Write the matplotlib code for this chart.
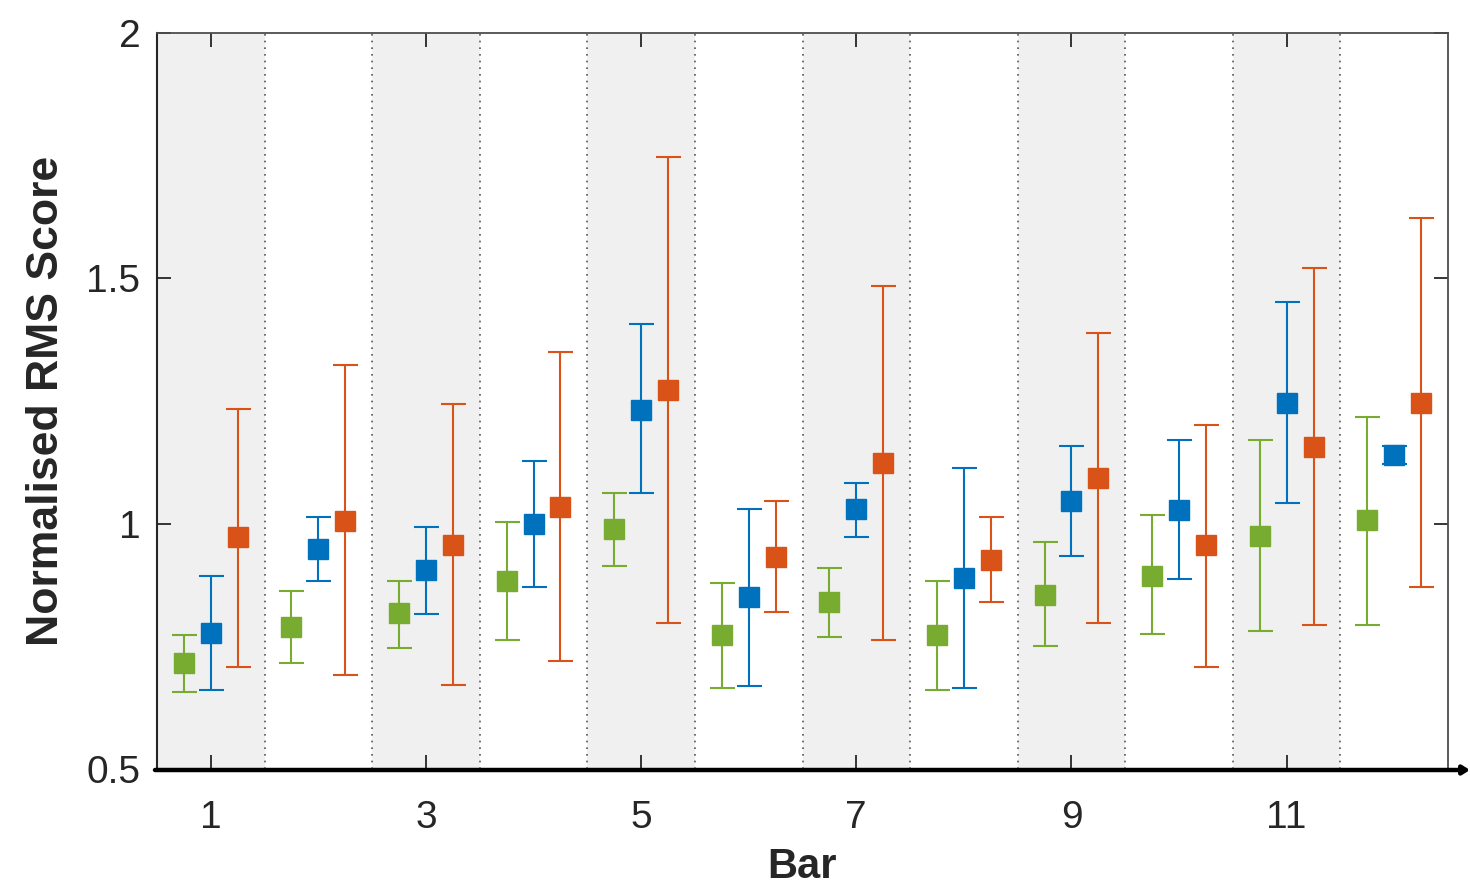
import matplotlib
matplotlib.use("Agg")
import matplotlib.pyplot as plt
import numpy as np

plt.rcParams['font.family'] = ['Liberation Sans', 'DejaVu Sans']

bars = list(range(1, 13))
xtick_vals = [1, 3, 5, 7, 9, 11]
ytick_vals = [0.5, 1, 1.5, 2]
ytick_labels = ['0.5', '1', '1.5', '2']

green_mid = [0.716, 0.789, 0.818, 0.883, 0.989, 0.773, 0.840, 0.773, 0.855, 0.893, 0.975, 1.007]
green_hi = [0.773, 0.863, 0.883, 1.003, 1.062, 0.879, 0.910, 0.883, 0.963, 1.018, 1.171, 1.217]
green_lo = [0.657, 0.716, 0.747, 0.763, 0.914, 0.665, 0.769, 0.661, 0.751, 0.775, 0.781, 0.793]

blue_mid = [0.777, 0.948, 0.906, 1.000, 1.232, 0.851, 1.030, 0.889, 1.046, 1.028, 1.246, 1.140]
blue_hi = [0.893, 1.014, 0.993, 1.128, 1.407, 1.030, 1.083, 1.113, 1.158, 1.171, 1.452, 1.158]
blue_lo = [0.661, 0.883, 0.816, 0.871, 1.062, 0.669, 0.973, 0.665, 0.934, 0.887, 1.042, 1.122]

orange_mid = [0.973, 1.005, 0.957, 1.034, 1.272, 0.932, 1.124, 0.926, 1.093, 0.957, 1.156, 1.246]
orange_hi = [1.234, 1.323, 1.244, 1.350, 1.747, 1.046, 1.484, 1.014, 1.389, 1.201, 1.521, 1.623]
orange_lo = [0.708, 0.692, 0.671, 0.720, 0.798, 0.820, 0.763, 0.840, 0.798, 0.708, 0.793, 0.871]

series = [
    (green_mid, green_lo, green_hi, '#77AC30', -0.25),
    (blue_mid, blue_lo, blue_hi, '#0072BD', 0.0),
    (orange_mid, orange_lo, orange_hi, '#D95319', 0.25),
]

fig = plt.figure(figsize=(14.7, 8.89), dpi=100)
ax = fig.add_axes([157/1470, 1 - 769/889, (1448-157)/1470, (769-33)/889])

# shaded bands and dotted separators
for b in bars:
    if b % 2 == 1:
        ax.axvspan(b - 0.5, b + 0.5, color='#f0f0f0', zorder=0, lw=0)
for b in bars[:-1]:
    ax.axvline(b + 0.5, color='#555555', ls=(0, (1, 3)), lw=1.2, zorder=1)

for mid, lo, hi, col, off in series:
    x = np.array(bars) + off
    mid = np.array(mid)
    yerr = [mid - np.array(lo), np.array(hi) - mid]
    ax.errorbar(x, mid, yerr=yerr, fmt='s', color=col, ecolor=col,
                markersize=14.5, elinewidth=1.5, capsize=9, capthick=1.5,
                zorder=3)

ax.set_xlim(0.5, 12.5)
ax.set_ylim(0.5, 2)
ax.set_xticks(xtick_vals)
ax.set_xticklabels([str(v) for v in xtick_vals])
ax.set_yticks(ytick_vals)
ax.set_yticklabels(ytick_labels)
ax.tick_params(direction='in', length=10, width=1.3, colors='#262626',
               labelsize=28, top=True, right=True, pad=12)
ax.tick_params(axis='x', pad=22)
for s in ['top', 'right']:
    ax.spines[s].set_color('#4d4d4d')
    ax.spines[s].set_linewidth(1.3)
ax.spines['left'].set_color('#262626')
ax.spines['left'].set_linewidth(1.5)
ax.spines['bottom'].set_visible(False)

ax.set_xlabel('Bar', fontsize=30, fontweight='bold', color='#262626', labelpad=8)
ax.set_ylabel('Normalised RMS Score', fontsize=32, fontweight='bold', color='#262626', labelpad=14)

# thick bottom axis with arrow
ax.annotate('', xy=(1470/1470, 1 - 770/889), xycoords='figure fraction',
            xytext=(155/1470, 1 - 770/889), textcoords='figure fraction',
            arrowprops=dict(arrowstyle='-|>,head_length=0.4,head_width=0.25',
                            color='black', lw=3.2, shrinkA=0, shrinkB=0),
            annotation_clip=False)

fig.savefig('out.png', dpi=100)
